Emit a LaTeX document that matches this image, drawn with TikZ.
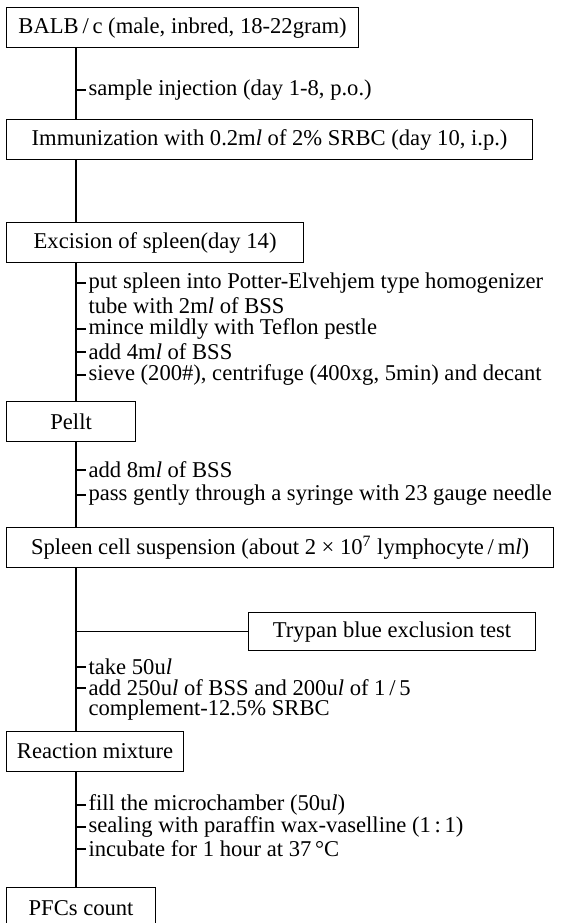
\documentclass[tikz,border=0pt]{standalone}
\usepackage{fontspec}
\setmainfont{Liberation Serif}

\tikzset{
  stage/.style={draw, anchor=north west, minimum height=20pt, inner xsep=5pt},
  note/.style={anchor=west, inner xsep=1pt, inner ysep=0pt}
}

\begin{document}
\begin{tikzpicture}[x=0.5pt, y=-0.5pt, line width=0.6pt, font=\fontsize{11.3}{12}\selectfont]
    \clip (0,0) rectangle (564,923);
    \useasboundingbox (0,0) rectangle (564,923);
    \coordinate (tx) at (76,0);

    \node[stage, minimum width=176pt] (balb) at (6,7) {BALB\,/\,c (male, inbred, 18-22gram)};
    \node[note] (inj) at (86,90) {sample injection (day 1-8, p.o.)};

    \node[stage, minimum width=263pt] (immun) at (6,119) {Immunization with 0.2m\textit{l} of 2\% SRBC (day 10, i.p.)};

    \node[stage, minimum width=148.5pt] (exc) at (6,222) {Excision of spleen(day 14)\hspace{12pt}};
    \node[note] (put) at (86,283) {put spleen into Potter-Elvehjem type homogenizer};
    \node[note] (tube) at (86,306) {tube with 2m\textit{l} of BSS};
    \node[note] (mince) at (86,329) {mince mildly with Teflon pestle};
    \node[note] (add4) at (86,352) {add 4m\textit{l} of BSS};
    \node[note] (sieve) at (86,375) {sieve (200\#), centrifuge (400xg, 5min) and decant};

    \node[stage, minimum width=64.5pt] (pellt) at (6,401) {Pellt};
    \node[note] (add8) at (86,470) {add 8m\textit{l} of BSS};
    \node[note] (pass) at (86,495) {pass gently through a syringe with 23 gauge needle};

    \node[stage, minimum width=273.5pt] (spleen) at (6,527) {Spleen cell suspension (about 2 × 10\textsuperscript{7} lymphocyte\,/\,m\textit{l})};
    \node[stage, minimum width=143.5pt, minimum height=19pt] (trypan) at (248,612) {Trypan blue exclusion test};
    \node[note] (take) at (86,667) {take 50u\textit{l}};
    \node[note] (add250) at (86,688) {add 250u\textit{l} of BSS and 200u\textit{l} of 1\,/\,5};
    \node[note] (compl) at (86,710) {complement-12.5\% SRBC};

    \node[stage, minimum width=88.5pt] (react) at (6,731) {Reaction mixture};
    \node[note] (fill) at (86,805) {fill the microchamber (50u\textit{l})};
    \node[note] (seal) at (86,827) {sealing with paraffin wax-vaselline (1\,:\,1)};
    \node[note] (incub) at (86,849) {incubate for 1 hour at 37\,°C};

    \node[stage, minimum width=74.5pt, minimum height=40pt, text depth=20pt] (pfcs) at (6,887) {PFCs count};

    \draw (balb.south -| tx) -- (immun.north -| tx);
    \draw (immun.south -| tx) -- (exc.north -| tx);
    \draw (exc.south -| tx) -- (pellt.north -| tx);
    \draw (pellt.south -| tx) -- (spleen.north -| tx);
    \draw (spleen.south -| tx) -- (react.north -| tx);
    \draw (react.south -| tx) -- (pfcs.north -| tx);
    \draw (trypan.west -| tx) -- (trypan.west);
    \foreach \n in {inj,put,mince,add4,sieve,add8,pass,take,add250,fill,seal,incub}
    \draw (\n.west -| tx) -- (\n.west);

\end{tikzpicture}
\end{document}
